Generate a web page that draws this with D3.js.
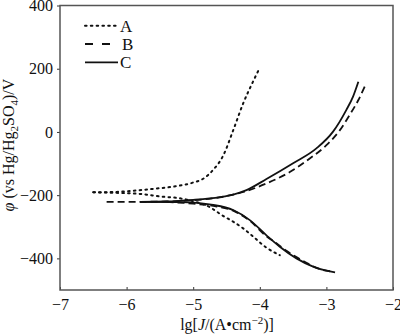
<!DOCTYPE html>
<html><head><meta charset="utf-8">
<script src="https://cdn.jsdelivr.net/npm/d3@7"></script>
<style>body{margin:0;background:#fff}svg{display:block}svg text{font-family:"Liberation Serif","Times New Roman",serif !important;fill:#111}</style>
</head><body><svg id="c" width="400" height="334"></svg>
<script>
const xTicks = [-7,-6,-5,-4,-3,-2];
const yTicks = [-400,-200,0,200,400];
const seriesNames = ["A","B","C"];
const aAnodic = [[-6.5,-191],[-6.2,-190],[-5.9,-186],[-5.6,-180],[-5.3,-173],[-5.0,-160],[-4.85,-148],[-4.7,-120],[-4.55,-75],[-4.4,5],[-4.25,90],[-4.1,160],[-4.0,203]];
const aCathodic = [[-6.5,-191],[-6.1,-193],[-5.75,-197],[-5.5,-204],[-5.2,-210],[-5.0,-219],[-4.75,-238],[-4.57,-263],[-4.4,-284],[-4.25,-305],[-4.1,-331],[-3.92,-363],[-3.8,-379],[-3.7,-390]];
const bAnodic = [[-6.3,-221],[-5.8,-221],[-5.4,-220],[-5.0,-216],[-4.6,-207],[-4.25,-190],[-3.9,-163],[-3.55,-127],[-3.25,-84],[-3.0,-42],[-2.8,5],[-2.65,54],[-2.52,101],[-2.41,150]];
const bCathodic = [[-5.4,-221],[-5.0,-227],[-4.7,-234],[-4.4,-249],[-4.15,-281],[-3.9,-330],[-3.75,-352],[-3.6,-376],[-3.45,-396],[-3.3,-414],[-3.15,-430],[-3.0,-439],[-2.93,-441]];
const cAnodic = [[-5.8,-221],[-5.4,-220],[-5.0,-215],[-4.6,-206],[-4.4,-198],[-4.2,-184],[-3.9,-149],[-3.5,-99],[-3.15,-52],[-2.9,1],[-2.7,70],[-2.6,112],[-2.52,159]];
const cCathodic = [[-5.8,-221],[-5.2,-222],[-4.7,-231],[-4.4,-247],[-4.15,-279],[-3.9,-327],[-3.7,-363],[-3.45,-400],[-3.2,-426],[-3.0,-439],[-2.87,-444]];

const FONT = '"Liberation Serif","Times New Roman",serif';
const L=60, T=5.5, R=393, B=290;
const svg = d3.select("#c");
const x = d3.scaleLinear().domain([-7,-2]).range([L,R]);
const y = d3.scaleLinear().domain([-500,400]).range([B,T]);

const styles = {
  A:{dash:"1.6,4.2", w:2, cap:"round"},
  B:{dash:"7,4", w:1.8, cap:"butt"},
  C:{dash:null, w:1.8, cap:"butt"}
};
const line = d3.line().x(d=>x(d[0])).y(d=>y(d[1])).curve(d3.curveMonotoneX);
const curves = [["A",aAnodic],["A",aCathodic],["B",bAnodic],["B",bCathodic],["C",cAnodic],["C",cCathodic]];
const g = svg.append("g");
curves.forEach(([n,d])=>{
  g.append("path").attr("d",line(d)).attr("fill","none").attr("stroke","#111")
   .attr("stroke-width",styles[n].w).attr("stroke-dasharray",styles[n].dash)
   .attr("stroke-linecap",styles[n].cap);
});

// axes
const fmt = d=>d<0?"\u2212"+Math.abs(d):String(d);
const xa = svg.append("g").attr("transform",`translate(0,${B})`)
  .call(d3.axisBottom(x).tickValues(xTicks).tickSize(-3).tickPadding(9).tickFormat(fmt));
const ya = svg.append("g").attr("transform",`translate(${L},0)`)
  .call(d3.axisLeft(y).tickValues(yTicks).tickSize(3).tickPadding(4).tickFormat(fmt));
[xa,ya].forEach(a=>{a.attr("font-family",FONT).attr("font-size",16);
  a.select(".domain").remove();a.selectAll("line").attr("stroke","#333").attr("stroke-width",1);
  a.selectAll("text").attr("font-family",FONT).style("font-family",FONT).style("font-size","16px").attr("fill","#111");});
xa.selectAll("text").attr("dy","0.71em");
svg.append("rect").attr("x",L).attr("y",T).attr("width",R-L).attr("height",B-T)
  .attr("fill","none").attr("stroke","#555").attr("stroke-width",1.5);

// legend
seriesNames.forEach((n,i)=>{
  const ly = 25.7 + i*18.3;
  svg.append("line").attr("x1",85).attr("x2",n==="B"?111:118).attr("y1",ly).attr("y2",ly)
    .attr("stroke","#111").attr("stroke-width",styles[n].w)
    .attr("stroke-dasharray",n==="B"?"8,9":styles[n].dash).attr("stroke-linecap",styles[n].cap);
  svg.append("text").attr("x",n==="B"?122:120).attr("y",ly+6).style("font-family",FONT).style("font-size","17px").text(n);
});

// axis titles
const xt = svg.append("text").attr("x",227).attr("y",330).attr("text-anchor","middle").style("font-family",FONT).style("font-size","16px");
xt.append("tspan").text("lg[");
xt.append("tspan").style("font-style","italic").text("J");
xt.append("tspan").text("/(A\u2022cm");
xt.append("tspan").attr("dy",-6).style("font-size","11px").text("\u22122");
xt.append("tspan").attr("dy",6).text(")]");

const yt = svg.append("text").attr("transform","translate(14,145) rotate(-90)").attr("text-anchor","middle").style("font-family",FONT).style("font-size","16px");
yt.append("tspan").style("font-style","italic").text("\u03c6");
yt.append("tspan").text(" (vs Hg/Hg");
yt.append("tspan").attr("dy",4).style("font-size","11px").text("2");
yt.append("tspan").attr("dy",-4).text("SO");
yt.append("tspan").attr("dy",4).style("font-size","11px").text("4");
yt.append("tspan").attr("dy",-4).text(")/V");
</script></body></html>
